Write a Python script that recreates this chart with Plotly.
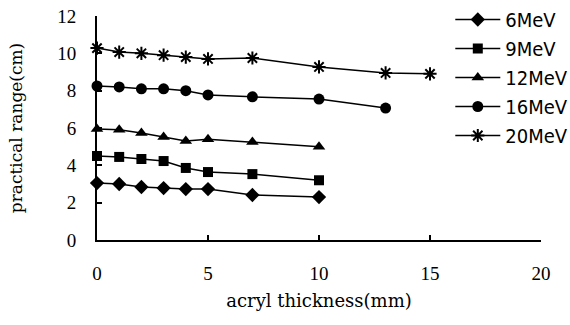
import plotly.graph_objects as go

thickness = [0, 1, 2, 3, 4, 5, 7, 10, 13, 15]

mev6 = [3.05, 3.0, 2.84, 2.78, 2.73, 2.73, 2.41, 2.3]
mev9 = [4.5, 4.45, 4.34, 4.23, 3.86, 3.64, 3.53, 3.2]
mev12 = [5.95, 5.9, 5.73, 5.52, 5.3, 5.4, 5.25, 5.0]
mev16 = [8.25, 8.2, 8.1, 8.1, 8.0, 7.77, 7.67, 7.55, 7.07]
mev20 = [10.28, 10.07, 10.0, 9.9, 9.8, 9.7, 9.75, 9.27, 8.95, 8.9]

series = [
    ("6MeV", mev6, "diamond", 11),
    ("9MeV", mev9, "square", 10),
    ("12MeV", mev12, "triangle-up", 11),
    ("16MeV", mev16, "circle", 11),
    ("20MeV", mev20, "asterisk-open", 11),
]

fig = go.Figure()
for name, vals, sym, sz in series:
    fig.add_trace(go.Scatter(
        x=thickness[:len(vals)], y=vals, name=name, mode="lines+markers",
        line=dict(color="black", width=1.5),
        marker=dict(symbol=sym, size=sz, color="black",
                    line=dict(color="black", width=2 if "asterisk" in sym else 0)),
        cliponaxis=False,
    ))

tickserif = dict(family="Liberation Serif", size=19, color="black")
titleserif = dict(family="DejaVu Serif", size=17, color="black")
fig.update_layout(
    width=570, height=325,
    margin=dict(l=97, r=29, t=16, b=85, autoexpand=False),
    paper_bgcolor="white", plot_bgcolor="white",
    font=dict(family="Liberation Serif", color="black", size=19),
    showlegend=True,
    legend=dict(
        xref="container", yref="container",
        x=0.79, y=1.0, xanchor="left", yanchor="top",
        font=dict(family="DejaVu Sans Condensed, Liberation Sans Narrow, DejaVu Sans", size=20),
        bgcolor="rgba(0,0,0,0)", itemwidth=45, tracegroupgap=0,
    ),
    xaxis=dict(
        range=[0, 20], tickvals=[0, 5, 10, 15, 20], showgrid=False, zeroline=False,
        showline=True, linecolor="black", linewidth=2,
        ticks="inside", ticklen=5, tickcolor="black", tickwidth=1.5,
        ticklabelstandoff=15, tickfont=tickserif, automargin=False,
        title=dict(text="acryl thickness(mm)", font=dict(family="DejaVu Serif", size=18), standoff=12),
    ),
    yaxis=dict(
        range=[0, 12], tickvals=[0, 2, 4, 6, 8, 10, 12], showgrid=False, zeroline=False,
        showline=True, linecolor="black", linewidth=2,
        ticks="inside", ticklen=5, tickcolor="black", tickwidth=1.5,
        ticklabelstandoff=15, tickfont=tickserif, automargin=False,
        title=dict(text="practical range(cm)", font=titleserif, standoff=30),
    ),
)

fig.write_html("out.html")
